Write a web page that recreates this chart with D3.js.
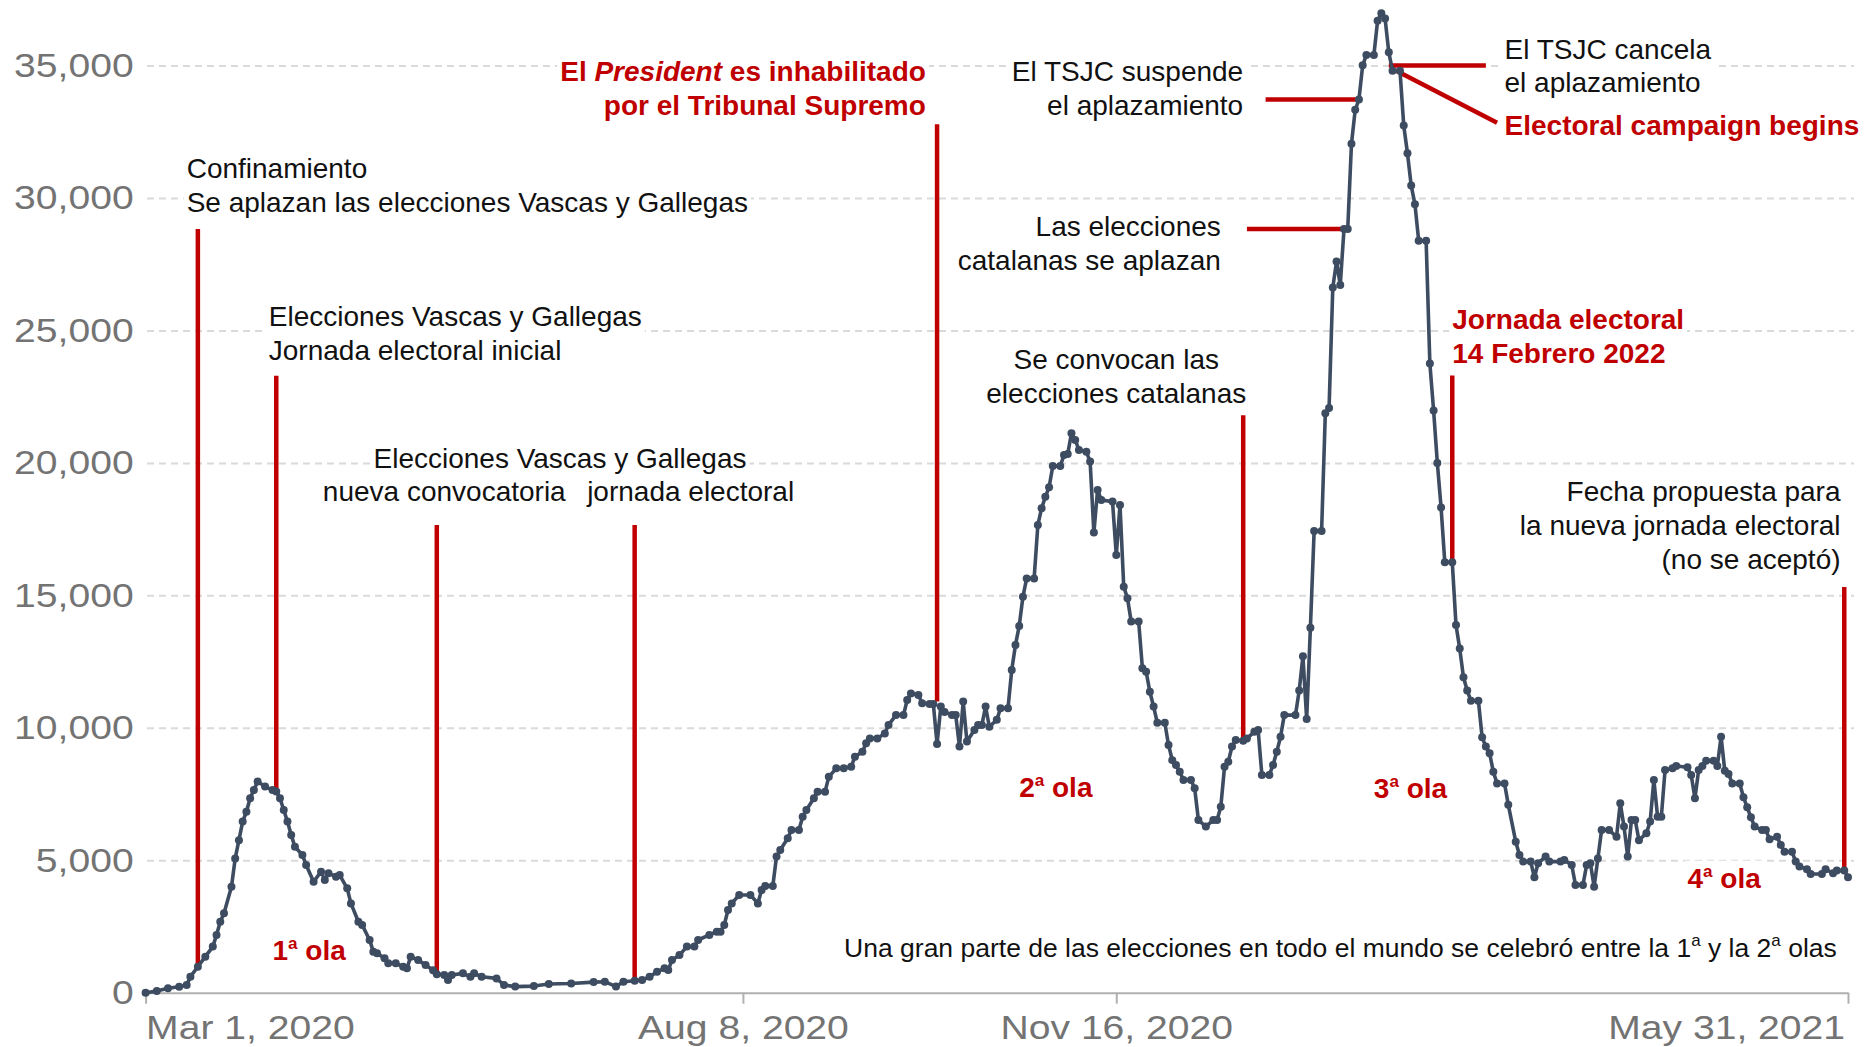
<!DOCTYPE html>
<html>
<head>
<meta charset="utf-8">
<script src="https://cdn.jsdelivr.net/npm/d3@7"></script>
<style>
  body { margin: 0; background: #fff; }
  svg { display: block; font-family: "Liberation Sans", Arial, Helvetica, sans-serif; }
  .grid line { stroke: #dadada; stroke-width: 2; stroke-dasharray: 7,5; }
  .x-axis path, .x-axis line { stroke: #b0b0b0; stroke-width: 2; }
  .tick text { fill: #737373; font-size: 34px; font-family: "Liberation Sans", Arial, sans-serif; }
  .note { font-size: 28px; fill: #111; }
  .note.small { font-size: 26.5px; }
  .note.red { fill: #c00000; font-weight: bold; }
  .event { stroke: #c00000; stroke-width: 4.5; fill: none; }
  .series { fill: none; stroke: #3e4c61; stroke-width: 3.6; stroke-linejoin: round; }
  .dot { fill: #3e4c61; }
</style>
</head>
<body>
<svg id="chart" width="1871" height="1047"></svg>
<script>
// daily cases (one entry per dot that could be read)
var dates = [
  "2020-03-01","2020-03-04","2020-03-07","2020-03-10","2020-03-12","2020-03-13","2020-03-15","2020-03-17","2020-03-19","2020-03-20","2020-03-21","2020-03-22","2020-03-24","2020-03-25","2020-03-26","2020-03-27","2020-03-28","2020-03-29","2020-03-30","2020-03-31",
  "2020-04-02","2020-04-04","2020-04-05","2020-04-06","2020-04-07","2020-04-08","2020-04-09","2020-04-10","2020-04-12","2020-04-13","2020-04-15","2020-04-17","2020-04-18","2020-04-19","2020-04-21","2020-04-22","2020-04-24","2020-04-25","2020-04-27","2020-04-28","2020-04-30",
  "2020-05-01","2020-05-02","2020-05-04","2020-05-05","2020-05-07","2020-05-09","2020-05-10","2020-05-11","2020-05-13","2020-05-15","2020-05-17","2020-05-18","2020-05-20","2020-05-21","2020-05-22","2020-05-25","2020-05-27","2020-05-28","2020-05-30",
  "2020-06-03","2020-06-05","2020-06-08","2020-06-13","2020-06-17","2020-06-23","2020-06-29",
  "2020-07-02","2020-07-05","2020-07-07","2020-07-10","2020-07-12","2020-07-14","2020-07-16","2020-07-18","2020-07-19","2020-07-20","2020-07-22","2020-07-24","2020-07-26","2020-07-27","2020-07-30",
  "2020-08-01","2020-08-02","2020-08-03","2020-08-04","2020-08-05","2020-08-07","2020-08-10","2020-08-12","2020-08-13","2020-08-14","2020-08-16","2020-08-17","2020-08-18","2020-08-20","2020-08-21","2020-08-23","2020-08-24","2020-08-25","2020-08-27","2020-08-28","2020-08-30","2020-08-31",
  "2020-09-02","2020-09-04","2020-09-06","2020-09-07","2020-09-09","2020-09-10","2020-09-11","2020-09-13","2020-09-15","2020-09-16","2020-09-18","2020-09-20","2020-09-21","2020-09-22","2020-09-24","2020-09-25","2020-09-27","2020-09-28","2020-09-29","2020-09-30",
  "2020-10-01","2020-10-03","2020-10-04","2020-10-05","2020-10-06","2020-10-07","2020-10-09","2020-10-10","2020-10-11","2020-10-12","2020-10-13","2020-10-15","2020-10-16","2020-10-18","2020-10-19","2020-10-20","2020-10-21","2020-10-22","2020-10-23","2020-10-25","2020-10-26","2020-10-27","2020-10-28","2020-10-29","2020-10-30",
  "2020-11-01","2020-11-02","2020-11-03","2020-11-04","2020-11-05","2020-11-06","2020-11-08","2020-11-09","2020-11-10","2020-11-11","2020-11-12","2020-11-15","2020-11-16","2020-11-17","2020-11-18","2020-11-19","2020-11-20","2020-11-22","2020-11-23","2020-11-24","2020-11-25","2020-11-26","2020-11-27","2020-11-29","2020-11-30",
  "2020-12-01","2020-12-02","2020-12-03","2020-12-04","2020-12-06","2020-12-07","2020-12-08","2020-12-10","2020-12-12","2020-12-13","2020-12-14","2020-12-15","2020-12-16","2020-12-17","2020-12-18","2020-12-20","2020-12-21","2020-12-23","2020-12-24","2020-12-25","2020-12-27","2020-12-28","2020-12-29","2020-12-30","2020-12-31",
  "2021-01-03","2021-01-04","2021-01-05","2021-01-06","2021-01-07","2021-01-08","2021-01-10","2021-01-11","2021-01-12","2021-01-13","2021-01-14","2021-01-15","2021-01-16","2021-01-17","2021-01-18","2021-01-19","2021-01-20","2021-01-21","2021-01-22","2021-01-24","2021-01-25","2021-01-26","2021-01-27","2021-01-28","2021-01-29","2021-01-31",
  "2021-02-01","2021-02-02","2021-02-03","2021-02-04","2021-02-05","2021-02-07","2021-02-08","2021-02-09","2021-02-10","2021-02-11","2021-02-12","2021-02-14","2021-02-15","2021-02-16","2021-02-17","2021-02-18","2021-02-19","2021-02-21","2021-02-22","2021-02-23","2021-02-24","2021-02-25","2021-02-26","2021-02-28",
  "2021-03-01","2021-03-03","2021-03-04","2021-03-05","2021-03-07","2021-03-08","2021-03-09","2021-03-11","2021-03-12","2021-03-15","2021-03-16","2021-03-18","2021-03-19","2021-03-21","2021-03-22","2021-03-23","2021-03-24","2021-03-25","2021-03-26","2021-03-28","2021-03-30","2021-03-31",
  "2021-04-01","2021-04-02","2021-04-03","2021-04-04","2021-04-05","2021-04-07","2021-04-08","2021-04-09","2021-04-10","2021-04-11","2021-04-12","2021-04-14","2021-04-15","2021-04-18","2021-04-19","2021-04-20","2021-04-21","2021-04-22","2021-04-23","2021-04-25","2021-04-26","2021-04-27","2021-04-28","2021-04-29","2021-04-30",
  "2021-05-02","2021-05-03","2021-05-04","2021-05-05","2021-05-06","2021-05-08","2021-05-09","2021-05-10","2021-05-12","2021-05-13","2021-05-14","2021-05-16","2021-05-17","2021-05-18","2021-05-20","2021-05-21","2021-05-24","2021-05-25","2021-05-27","2021-05-28","2021-05-30","2021-05-31"
];
var cases = [
  0,60,165,226,290,605,980,1360,1740,2180,2680,3000,4000,5070,5760,6460,6830,7340,7650,7970,
  7780,7650,7600,7340,6900,6460,5950,5510,5200,4820,4190,4570,4250,4510,4380,4440,3940,3370,2680,2560,1990,
  1550,1490,1300,1110,1110,980,920,1360,1230,1050,850,700,670,480,670,730,600,730,600,
  540,290,230,250,330,350,400,
  415,230,415,450,480,600,790,920,860,1230,1420,1740,1740,1990,2180,
  2300,2300,2560,3120,3370,3690,3690,3370,3880,4030,4030,5140,5390,5830,6140,6140,6640,6900,7340,7590,7590,8150,
  8470,8470,8530,8910,9100,9420,9600,9600,9790,10110,10480,10480,11050,11300,11240,10930,10900,10900,9390,10800,
  10600,10480,10480,9290,10990,9480,9920,10110,10110,10800,10040,10300,10740,10740,12180,13130,13840,14950,15640,15640,17660,18290,18720,19080,19880,
  19880,20300,20340,21120,20870,20490,20420,20050,17370,18980,18600,18540,16520,18410,15330,14890,14010,14010,12250,12120,11360,10800,10190,10190,9350,
  8780,8600,8340,8030,8030,7720,6520,6270,6520,6520,7020,8530,8720,9290,9540,9510,9600,9850,9920,8220,8220,8600,9100,9660,10480,
  10480,11410,12700,10330,13780,17430,17430,21880,22070,26620,27600,26720,28830,28830,32050,33330,33720,35010,35400,35400,36690,36980,36780,35500,34810,34810,
  32740,31690,30470,29770,28390,28390,23750,21980,20000,18320,16250,16250,13880,12990,11910,11410,11020,11020,9640,9290,9040,8340,7900,7900,
  7100,5700,5200,4950,4950,4360,4890,5140,4950,4950,5010,4820,4070,4070,4820,4890,4000,5070,6140,6140,5890,7150,
  6270,5140,6520,6520,5760,6020,6460,8030,6640,6640,8410,8470,8560,8510,8220,7340,8410,8560,8760,8760,8560,9660,8380,8260,7900,
  7900,7380,7000,6620,6270,6140,6140,5790,5890,5580,5320,5320,4950,4760,4660,4480,4480,4660,4510,4610,4610,4360
];

var yTicks = [0, 5000, 10000, 15000, 20000, 25000, 30000, 35000];
var xTicks = ["2020-03-01", "2020-08-08", "2020-11-16", "2021-05-31"];

// red markers: vertical lines from a label down to the curve
var eventLines = [
  { date: "2020-03-15", from: 28830, to: 980 },
  { date: "2020-04-05", from: 23290, to: 7600 },
  { date: "2020-05-18", from: 17660, to: 700 },
  { date: "2020-07-10", from: 17660, to: 450 },
  { date: "2020-09-29", from: 32790, to: 10990 },
  { date: "2020-12-20", from: 21800, to: 9510 },
  { date: "2021-02-14", from: 23300, to: 16250 },
  { date: "2021-05-30", from: 15320, to: 4610 }
];
var connectors = [
  { from: ["2020-12-21", 28830], to: ["2021-01-16", 28830] },
  { from: ["2020-12-26", 33720], to: ["2021-01-20", 33720] },
  { from: ["2021-01-28", 35000], to: ["2021-02-23", 35000] },
  { from: ["2021-01-30", 34810], to: ["2021-02-26", 32840] }
];

var labels = [
  { date: "2020-03-12", value: 30765, anchor: "start", lines: ["Confinamiento", "Se aplazan las elecciones Vascas y Gallegas"] },
  { date: "2020-04-03", value: 25180, anchor: "start", lines: ["Elecciones Vascas y Gallegas", "Jornada electoral inicial"] },
  { date: "2020-06-20", value: 19820, anchor: "middle", lines: ["Elecciones Vascas y Gallegas"] },
  { date: "2020-05-20", value: 18560, anchor: "middle", lines: ["nueva convocatoria"] },
  { date: "2020-07-25", value: 18560, anchor: "middle", lines: ["jornada electoral"] },
  { date: "2020-09-26", value: 34420, anchor: "end", red: true, lines: ["El *President* es inhabilitado", "por el Tribunal Supremo"] },
  { date: "2020-12-20", value: 34420, anchor: "end", lines: ["El TSJC suspende", "el aplazamiento"] },
  { date: "2020-12-14", value: 28567, anchor: "end", lines: ["Las elecciones", "catalanas se aplazan"] },
  { date: "2020-11-16", value: 23557, anchor: "middle", lines: ["Se convocan las", "elecciones catalanas"] },
  { date: "2021-02-28", value: 35268, anchor: "start", lines: ["El TSJC cancela", "el aplazamiento"] },
  { date: "2021-02-28", value: 32387, anchor: "start", red: true, lines: ["Electoral campaign begins"] },
  { date: "2021-02-14", value: 25056, anchor: "start", red: true, lines: ["Jornada electoral", "14 Febrero 2022"] },
  { date: "2021-05-29", value: 18563, anchor: "end", lines: ["Fecha propuesta para", "la nueva jornada electoral", "(no se aceptó)"] },
  { date: "2020-04-04", value: 1216, anchor: "start", red: true, lines: ["1ª ola"] },
  { date: "2020-10-21", value: 7388, anchor: "start", red: true, lines: ["2ª ola"] },
  { date: "2021-01-24", value: 7350, anchor: "start", red: true, lines: ["3ª ola"] },
  { date: "2021-04-18", value: 3964, anchor: "start", red: true, lines: ["4ª ola"] },
  { date: "2021-05-28", value: 1348, anchor: "end", small: true, lines: ["Una gran parte de las elecciones en todo el mundo se celebró entre la 1ª y la 2ª olas"] }
];

var parse = d3.utcParse("%Y-%m-%d");
var series = dates.map(function (d, i) { return { date: parse(d), value: cases[i] }; });

var svg = d3.select("#chart");

var x = d3.scaleUtc()
    .domain([parse("2020-03-01"), parse("2021-05-31")])
    .range([145.6, 1848]);
var y = d3.scaleLinear()
    .domain([0, 35000])
    .range([992.7, 65.6]);

var gridLayer = svg.append("g");
var bgLayer = svg.append("g");
var axisLayer = svg.append("g");
var eventLayer = svg.append("g");
var seriesLayer = svg.append("g");
var textLayer = svg.append("g");

// dashed gridlines
gridLayer.append("g")
    .attr("class", "grid")
    .attr("transform", "translate(147,0)")
    .call(d3.axisLeft(y).tickValues(yTicks.filter(function (v) { return v > 0; }))
        .tickSize(-(1854 - 147)).tickFormat(""))
    .call(function (g) { g.select(".domain").remove(); });

// y labels
axisLayer.append("g")
    .attr("transform", "translate(145.6,0)")
    .call(d3.axisLeft(y).tickValues(yTicks).tickSize(0).tickPadding(10.4).tickFormat(d3.format(",")))
    .call(function (g) { g.select(".domain").remove(); })
    .selectAll("text")
    .attr("transform", "scale(1.15,1)");

// x axis
var xt = xTicks.map(parse);
axisLayer.append("g")
    .attr("class", "x-axis")
    .attr("transform", "translate(0," + y(0) + ")")
    .call(d3.axisBottom(x).tickValues(xt).tickSize(11).tickSizeOuter(0).tickFormat(d3.utcFormat("%b %-d, %Y")))
    .selectAll("text")
    .attr("y", 46)
    .attr("dy", null)
    .attr("x", function (d, i) { return i === xt.length - 1 ? -3 : 0; })
    .attr("text-anchor", function (d, i) { return i === 0 ? "start" : (i === xt.length - 1 ? "end" : "middle"); })
    .attr("transform", "scale(1.15,1)");

// red event markers
eventLayer.selectAll("line.v")
    .data(eventLines)
    .enter().append("line")
    .attr("class", "event v")
    .attr("x1", function (d) { return x(parse(d.date)); })
    .attr("x2", function (d) { return x(parse(d.date)); })
    .attr("y1", function (d) { return y(d.from); })
    .attr("y2", function (d) { return y(d.to); });

eventLayer.selectAll("line.c")
    .data(connectors)
    .enter().append("line")
    .attr("class", "event c")
    .attr("x1", function (d) { return x(parse(d.from[0])); })
    .attr("y1", function (d) { return y(d.from[1]); })
    .attr("x2", function (d) { return x(parse(d.to[0])); })
    .attr("y2", function (d) { return y(d.to[1]); });

// the curve
var line = d3.line()
    .x(function (d) { return x(d.date); })
    .y(function (d) { return y(d.value); });

seriesLayer.append("path")
    .datum(series)
    .attr("class", "series")
    .attr("d", line);

seriesLayer.selectAll("circle")
    .data(series)
    .enter().append("circle")
    .attr("class", "dot")
    .attr("cx", function (d) { return x(d.date); })
    .attr("cy", function (d) { return y(d.value); })
    .attr("r", 4);

// annotations
var lineH = 33.8, supShift = 11;
labels.forEach(function (l) {
    var g = textLayer.append("g");
    var px = x(parse(l.date)), py = y(l.value);
    l.lines.forEach(function (s, i) {
        var t = g.append("text")
            .attr("class", "note" + (l.red ? " red" : "") + (l.small ? " small" : ""))
            .attr("x", px)
            .attr("y", py + i * lineH)
            .attr("text-anchor", l.anchor);
        var pending = 0;
        s.split(/(\*[^*]+\*|ª)/).filter(Boolean).forEach(function (part) {
            if (part === "ª") {
                t.append("tspan").attr("dy", -supShift + pending).attr("font-size", "17px").text("a");
                pending = supShift;
                return;
            }
            var sp = t.append("tspan");
            if (pending) { sp.attr("dy", pending); pending = 0; }
            if (part.charAt(0) === "*") {
                sp.attr("font-style", "italic").text(part.slice(1, -1));
            } else {
                sp.text(part);
            }
        });
    });
    var b = g.node().getBBox();
    bgLayer.append("rect")
        .attr("x", b.x - 3).attr("y", b.y - 1)
        .attr("width", b.width + 6).attr("height", b.height + 2)
        .attr("fill", "#fff");
});
</script>
</body>
</html>
